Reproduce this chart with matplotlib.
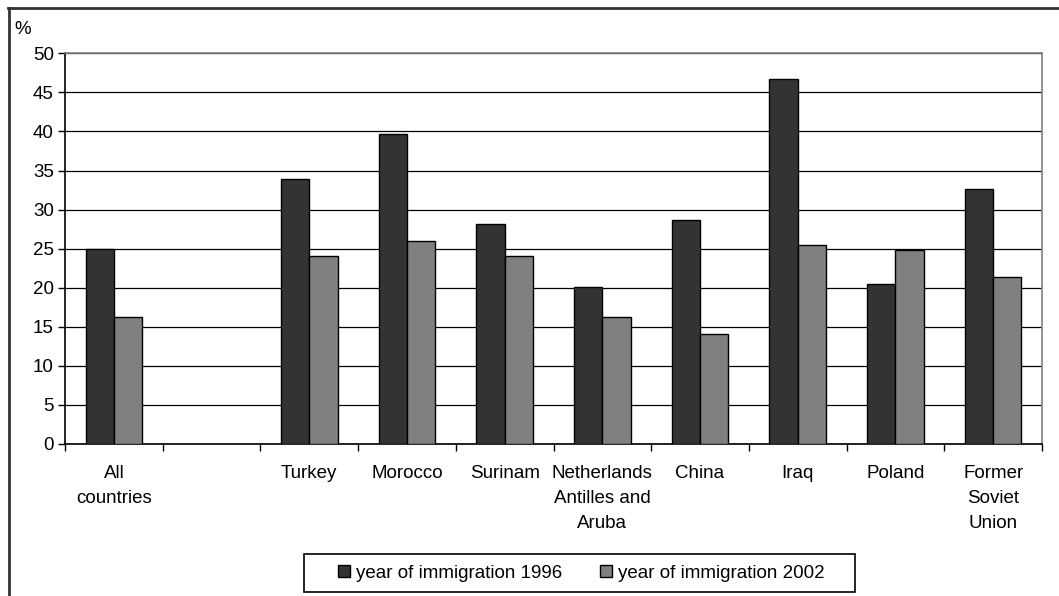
import numpy as np
import matplotlib
matplotlib.use('Agg')
import matplotlib.pyplot as plt
from matplotlib.lines import Line2D
from matplotlib.patches import Rectangle

plt.rcParams['font.family'] = ['Liberation Sans', 'DejaVu Sans']

# data
categories = ['All\ncountries', '', 'Turkey', 'Morocco', 'Surinam',
              'Netherlands\nAntilles and\nAruba', 'China', 'Iraq', 'Poland',
              'Former\nSoviet\nUnion']
y1996 = [25.0, np.nan, 33.9, 39.7, 28.2, 20.1, 28.7, 46.7, 20.5, 32.6]
y2002 = [16.2, np.nan, 24.1, 26.0, 24.1, 16.2, 14.1, 25.5, 24.8, 21.4]
labels = ['year of immigration 1996', 'year of immigration 2002']
colors = ['#333333', '#808080']

W, H = 1059, 596
fig = plt.figure(figsize=(W/100, H/100), dpi=100)
ax = fig.add_axes([65/W, (H-444)/H, (1042-65)/W, (444-53.3)/H])

x = np.arange(len(categories))
bw = 0.29
ax.bar(x - bw/2, y1996, bw, color=colors[0], edgecolor='black', linewidth=1, zorder=3)
ax.bar(x + bw/2, y2002, bw, color=colors[1], edgecolor='black', linewidth=1, zorder=3)

ax.set_xlim(-0.5, len(categories) - 0.5)
ax.set_ylim(0, 50)
ax.set_yticks(np.arange(0, 51, 5))
ax.yaxis.grid(True, color='black', linewidth=0.9, zorder=0)
ax.set_axisbelow(True)

ax.set_xticks(x)
ax.set_xticklabels(categories, fontsize=13.5, linespacing=1.62)
ax.set_xticks(np.arange(-0.5, len(categories), 1), minor=True)
ax.tick_params(axis='x', which='major', length=0, pad=15)
ax.tick_params(axis='x', which='minor', length=5, width=1, direction='out')
ax.tick_params(axis='y', length=5, width=1, direction='out', labelsize=13.5, pad=3)

for s in ['left', 'bottom']:
    ax.spines[s].set_color('black')
    ax.spines[s].set_linewidth(1.2)
for s in ['top', 'right']:
    ax.spines[s].set_color('#808080')
    ax.spines[s].set_linewidth(1.2)

fig.text(14/W, 1 - 30/H, '%', fontsize=13.5, ha='left', va='center')

# legend: box drawn separately so the side padding can match
fig.add_artist(Rectangle((304/W, 1 - 592/H), (855-304)/W, (592-554)/H,
                         transform=fig.transFigure, facecolor='white',
                         edgecolor='black', linewidth=1.2, zorder=4))
handles = [Line2D([], [], marker='s', linestyle='none', markersize=9,
                  markerfacecolor=c, markeredgecolor='black') for c in colors]
leg = fig.legend(handles, labels, loc='center', bbox_to_anchor=(580/W, 1 - 573/H),
                 bbox_transform=fig.transFigure, ncol=2, fontsize=13.5, frameon=False,
                 handlelength=0.9, handletextpad=0.2, columnspacing=1.85, borderpad=0.2)
leg.set_zorder(5)

# outer frame (top and left)
fig.add_artist(Line2D([8/W, 1], [1 - 7.5/H, 1 - 7.5/H], color='#333333', linewidth=2,
                      transform=fig.transFigure))
fig.add_artist(Line2D([8.5/W, 8.5/W], [0, 1 - 7.5/H], color='#333333', linewidth=2,
                      transform=fig.transFigure))

fig.savefig('out.png', dpi=100)
